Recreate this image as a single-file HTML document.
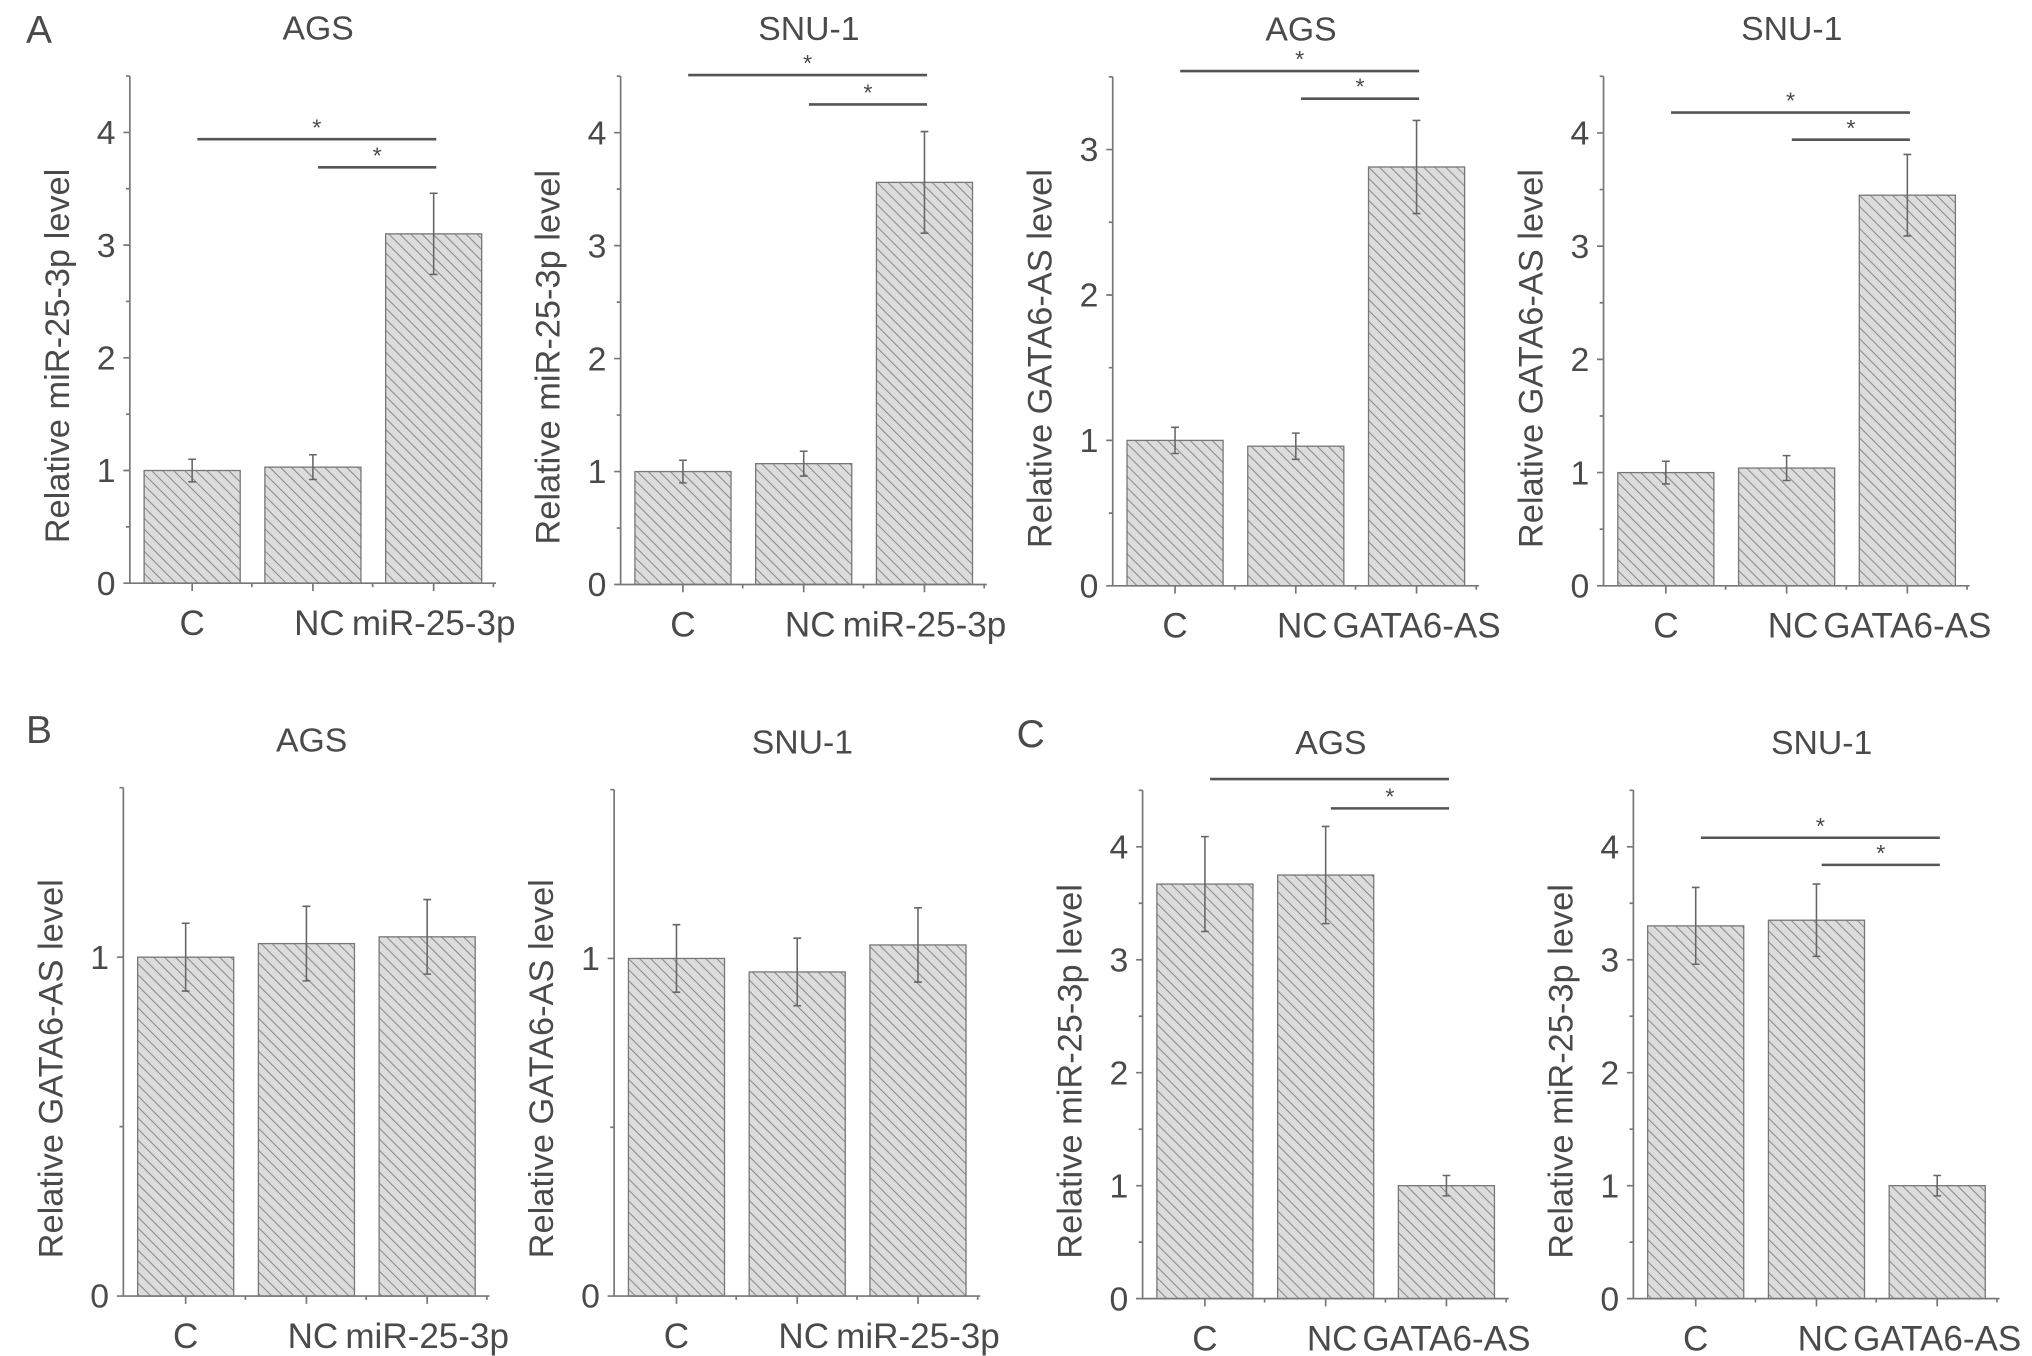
<!DOCTYPE html>
<html><head><meta charset="utf-8"><style>
html,body{margin:0;padding:0;background:#fff;}
svg{display:block;}
text{font-family:"Liberation Sans",sans-serif;fill:#4a4a4a;}
</style></head><body>
<svg id="fig" width="2032" height="1356" viewBox="0 0 1565 1044" xmlns="http://www.w3.org/2000/svg">
<defs>
<pattern id="hatch" patternUnits="userSpaceOnUse" width="6" height="6" patternTransform="rotate(-45)">
<rect width="6" height="6" fill="#dcdcdc"/>
<line x1="0" y1="0" x2="0" y2="6" stroke="#8a8a8a" stroke-width="1.6"/>
</pattern>
</defs>
<text x="20" y="33" font-size="30">A</text>
<text x="20" y="572" font-size="30">B</text>
<text x="783" y="575" font-size="30">C</text>
</svg>
<script>
// categories
const catsMiR = ["C", "NC", "miR-25-3p"];
const catsGata = ["C", "NC", "GATA6-AS"];
// values & errors
const valsA1 = [1.0, 1.03, 3.1];   const errA1 = [0.1, 0.11, 0.36];
const valsA2 = [1.0, 1.07, 3.56];  const errA2 = [0.1, 0.11, 0.45];
const valsA3 = [1.0, 0.96, 2.88];  const errA3 = [0.09, 0.09, 0.32];
const valsA4 = [1.0, 1.04, 3.45];  const errA4 = [0.1, 0.11, 0.36];
const valsB1 = [1.0, 1.04, 1.06];  const errB1 = [0.1, 0.11, 0.11];
const valsB2 = [1.0, 0.96, 1.04];  const errB2 = [0.1, 0.1, 0.11];
const valsC1 = [3.67, 3.75, 1.0];  const errC1 = [0.42, 0.43, 0.09];
const valsC2 = [3.3, 3.35, 1.0];   const errC2 = [0.34, 0.32, 0.09];
// tick labels
const ticks0to4 = [0, 1, 2, 3, 4];
const ticks0to3 = [0, 1, 2, 3];
const ticks0to1 = [0, 1];
// significance brackets: [fromIndex, toIndex, level, star]
const sigA1 = [[0, 2, 3.94, true], [1, 2, 3.69, true]];
const sigA2 = [[0, 2, 4.51, true], [1, 2, 4.25, true]];
const sigA3 = [[0, 2, 3.54, true], [1, 2, 3.35, true]];
const sigA4 = [[0, 2, 4.18, true], [1, 2, 3.94, true]];
const sigC1 = [[0, 2, 4.6, false], [1, 2, 4.34, true]];
const sigC2 = [[0, 2, 4.08, true], [1, 2, 3.84, true]];

const NS = "http://www.w3.org/2000/svg";
const svg = document.getElementById('fig');
function mk(parent, tag, attrs, txt) {
  const e = document.createElementNS(NS, tag);
  for (const k in attrs) e.setAttribute(k, attrs[k]);
  if (txt !== undefined) e.textContent = txt;
  parent.appendChild(e);
  return e;
}
const AX = "#777";

function panel(id, cfg, cats, vals, errs, ticks, sig) {
  const g = mk(svg, 'g', {});
  
  
  const yS = v => cfg.y0 - v * cfg.upp;
  const xC = i => cfg.ax + 11 + 37 + i * 93;
  const t = mk(g, 'text', {x: cfg.ax + 145, y: cfg.y0 - (cfg.top * cfg.upp) - 28, 'font-size': 26, 'text-anchor': 'middle'}, cfg.title);
  
  
  const yl = mk(g, 'text', {x: 0, y: 0, 'font-size': 26.5, 'text-anchor': 'middle', transform: `translate(${cfg.ax - 47},${cfg.y0 - 175}) rotate(-90)`}, cfg.ylabel);
  
  
  vals.forEach((v, i) => {
    const r = mk(g, 'rect', {x: xC(i) - 37, y: yS(v), width: 74, height: v * cfg.upp, fill: 'url(#hatch)', stroke: '#777', 'stroke-width': 1});
    
    
    const e = errs[i];
    const eb = mk(g, 'path', {d: `M${xC(i)},${yS(v + e)}V${yS(v - e)}M${xC(i) - 3},${yS(v + e)}h6M${xC(i) - 3},${yS(v - e)}h6`, stroke: '#666', 'stroke-width': 1.2, fill: 'none'});
    
    
    const cl = mk(g, 'text', {x: xC(i) + (i === 1 ? 5 : 0), y: cfg.y0 + 40, 'font-size': 27, 'text-anchor': 'middle'}, cats[i]);
    
    
  });
  const xEnd = cfg.ax + 282;
  let d = `M${cfg.ax},${yS(cfg.top)}V${cfg.y0}H${xEnd}`;
  for (let v = 0; v <= cfg.top + 1e-6; v += 0.5) {
    const major = Math.abs(v - Math.round(v)) < 1e-6;
    d += `M${cfg.ax - (major ? 5 : 3)},${yS(v)}H${cfg.ax}`;
  }
  for (let i = 0; i < 3; i++) d += `M${xC(i)},${cfg.y0}v6`;
  for (let i = 0; i < 3; i++) d += `M${xC(i) + 46},${cfg.y0}v3`;
  const axp = mk(g, 'path', {d: d, stroke: AX, 'stroke-width': 1.3, fill: 'none'});
  
  
  ticks.forEach(v => {
    const tl = mk(g, 'text', {x: cfg.ax - 11, y: yS(v) + 9, 'font-size': 26, 'text-anchor': 'end'}, String(v));
    
    
  });
  (sig || []).forEach((s, k) => {
    const x1 = xC(s[0]) + 4, x2 = xC(s[1]) + 2, y = yS(s[2]);
    const ln = mk(g, 'line', {x1: x1, x2: x2, y1: y, y2: y, stroke: '#555', 'stroke-width': 2});
    
    
    if (s[3]) {
      const st = mk(g, 'text', {x: (x1 + x2) / 2, y: y - 3, 'font-size': 18, 'text-anchor': 'middle'}, '*');
      
      
    }
  });
}
const lblMiR = "Relative miR-25-3p level";
const lblGata = "Relative GATA6-AS level";
panel('a-ags-mir', {ax: 100, y0: 449, upp: 86.8, top: 4.5, title: 'AGS', ylabel: lblMiR}, catsMiR, valsA1, errA1, ticks0to4, sigA1);
panel('a-snu1-mir', {ax: 478, y0: 450, upp: 87, top: 4.5, title: 'SNU-1', ylabel: lblMiR}, catsMiR, valsA2, errA2, ticks0to4, sigA2);
panel('a-ags-gata', {ax: 857, y0: 451, upp: 112, top: 3.5, title: 'AGS', ylabel: lblGata}, catsGata, valsA3, errA3, ticks0to3, sigA3);
panel('a-snu1-gata', {ax: 1235, y0: 451, upp: 87.2, top: 4.5, title: 'SNU-1', ylabel: lblGata}, catsGata, valsA4, errA4, ticks0to4, sigA4);
panel('b-ags', {ax: 95, y0: 998, upp: 261, top: 1.5, title: 'AGS', ylabel: lblGata}, catsMiR, valsB1, errB1, ticks0to1, null);
panel('b-snu1', {ax: 473, y0: 998, upp: 260, top: 1.5, title: 'SNU-1', ylabel: lblGata}, catsMiR, valsB2, errB2, ticks0to1, null);
panel('c-ags', {ax: 880, y0: 1000, upp: 87, top: 4.5, title: 'AGS', ylabel: lblMiR}, catsGata, valsC1, errC1, ticks0to4, sigC1);
panel('c-snu1', {ax: 1258, y0: 1000, upp: 87, top: 4.5, title: 'SNU-1', ylabel: lblMiR}, catsGata, valsC2, errC2, ticks0to4, sigC2);
</script>
</body></html>
